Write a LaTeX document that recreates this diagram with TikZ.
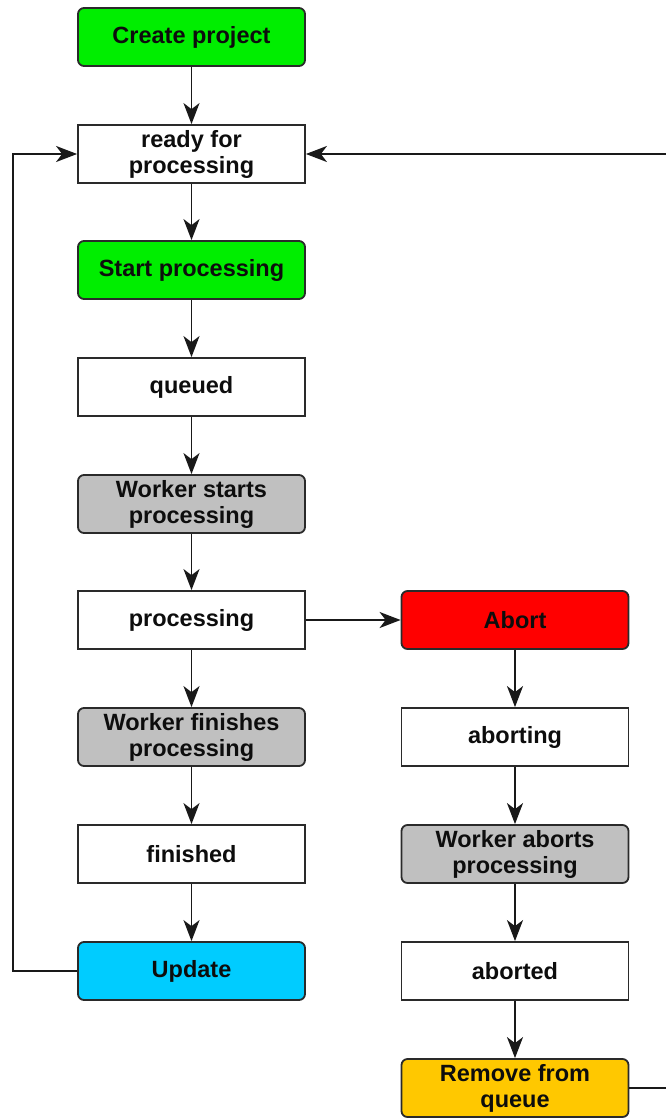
\documentclass[tikz,border=0pt]{standalone}
\usepackage{fontspec}
\setmainfont{Liberation Sans}
\usetikzlibrary{arrows.meta}
\definecolor{cgreen}{HTML}{00EE00}
\definecolor{cred}{HTML}{FF0000}
\definecolor{ccyan}{HTML}{00CCFF}
\definecolor{cgray}{HTML}{C0C0C0}
\definecolor{corange}{HTML}{FFC800}
\definecolor{cborder}{HTML}{2A2A2A}
\begin{document}
\begin{tikzpicture}[x=1pt,y=-1pt,
  box/.style={draw=cborder, line width=1.8pt, minimum width=227pt, minimum height=58pt,
    align=center, inner sep=0pt, font=\fontsize{23.5}{26}\selectfont\bfseries, text=black!95},
  state/.style={box, fill=white},
  action/.style={box, rounded corners=6pt},
  conn/.style={line width=1.8pt, draw=black!90, -{Stealth[length=21pt,width=16pt,inset=6pt]}}]
\useasboundingbox (0,0) rectangle (665,1119);
\node[action, fill=cgreen] (create) at (191.5,37) {Create project};
\node[state] (ready) at (191.5,154) {ready for\\processing};
\node[action, fill=cgreen] (start) at (191.5,270) {Start processing};
\node[state] (queued) at (191.5,387) {queued};
\node[action, fill=cgray] (wstart) at (191.5,504) {Worker starts\\processing};
\node[state] (proc) at (191.5,620) {processing};
\node[action, fill=cgray] (wfin) at (191.5,737) {Worker finishes\\processing};
\node[state] (fin) at (191.5,854) {finished};
\node[action, fill=ccyan] (upd) at (191.5,971) {Update};
\node[action, fill=cred] (abort) at (515,620) {Abort};
\node[state] (aborting) at (515,737) {aborting};
\node[action, fill=cgray] (wabort) at (515,854) {Worker aborts\\processing};
\node[state] (aborted) at (515,971) {aborted};
\node[action, fill=corange] (remove) at (515,1088) {Remove from\\queue};
\coordinate (lb) at (13,971);
\coordinate (lt) at (13,154);
\coordinate (rb) at (668,1088);
\coordinate (rt) at (668,154);
\draw[conn] (create) -- (ready);
\draw[conn] (ready) -- (start);
\draw[conn] (start) -- (queued);
\draw[conn] (queued) -- (wstart);
\draw[conn] (wstart) -- (proc);
\draw[conn] (proc) -- (wfin);
\draw[conn] (wfin) -- (fin);
\draw[conn] (fin) -- (upd);
\draw[conn] (proc) -- (abort);
\draw[conn] (abort) -- (aborting);
\draw[conn] (aborting) -- (wabort);
\draw[conn] (wabort) -- (aborted);
\draw[conn] (aborted) -- (remove);
\draw[conn] (upd.west) -- (lb) -- (lt) -- (ready.west);
\draw[conn] (remove.east) -- (rb) -- (rt) -- (ready.east);
\end{tikzpicture}
\end{document}
